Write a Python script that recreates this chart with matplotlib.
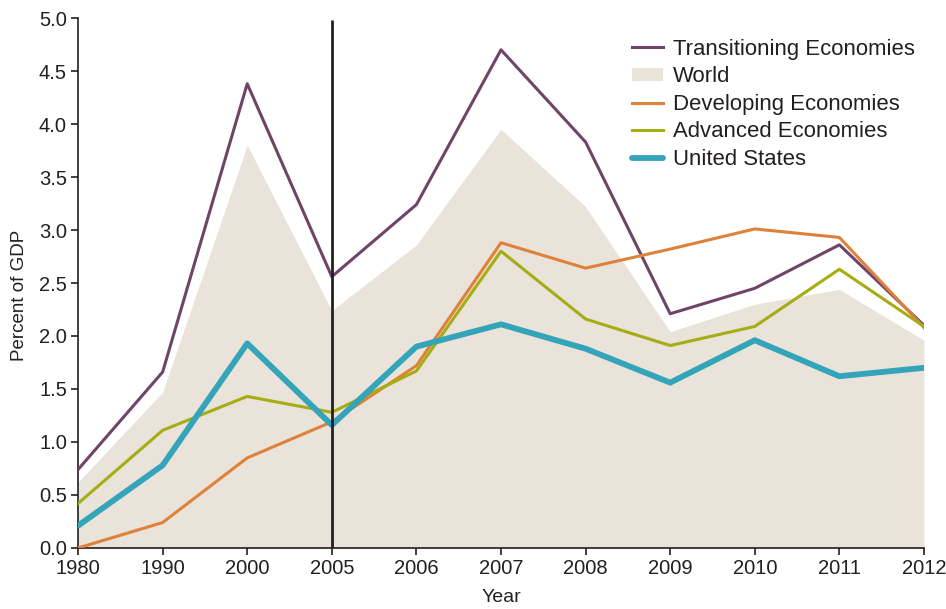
import numpy as np
import matplotlib.pyplot as plt
from matplotlib.patches import Patch
from matplotlib.lines import Line2D

plt.rcParams['font.family'] = ['Liberation Sans', 'DejaVu Sans']

years = ['1980', '1990', '2000', '2005', '2006', '2007', '2008', '2009', '2010', '2011', '2012']
transitioning = [0.74, 1.66, 4.38, 2.56, 3.24, 4.70, 3.83, 2.21, 2.45, 2.86, 2.10]
world = [0.62, 1.47, 3.80, 2.24, 2.86, 3.95, 3.22, 2.04, 2.30, 2.44, 1.96]
developing = [0.00, 0.24, 0.85, 1.19, 1.72, 2.88, 2.64, 2.82, 3.01, 2.93, 2.08]
advanced = [0.42, 1.11, 1.43, 1.28, 1.67, 2.80, 2.16, 1.91, 2.09, 2.63, 2.09]
us = [0.21, 0.78, 1.93, 1.16, 1.90, 2.11, 1.88, 1.56, 1.96, 1.62, 1.70]

c_trans = '#6f4468'
c_world = '#e9e3da'
c_dev = '#df8139'
c_adv = '#a6ad12'
c_us = '#33a4b9'
c_text = '#231f20'

x = np.arange(len(years))

fig = plt.figure(figsize=(9.46, 6.09), dpi=100)
ax = fig.add_axes([0.0825, 0.1002, 0.8942, 0.8702])

ax.fill_between(x, 0, world, color=c_world, lw=0, zorder=1)
ax.plot(x, transitioning, color=c_trans, lw=2.2, zorder=3)
ax.plot(x, developing, color=c_dev, lw=2.2, zorder=3)
ax.plot(x, advanced, color=c_adv, lw=2.2, zorder=3)
ax.plot(x, us, color=c_us, lw=4.2, zorder=4, solid_capstyle='round')
ax.vlines(3, 0, 4.98, color=c_text, lw=2, zorder=5)

ax.set_xlim(0, len(years) - 1)
ax.set_ylim(0, 5.0)
ax.set_xticks(x)
ax.set_xticklabels(years)
ax.set_yticks(np.arange(0, 5.01, 0.5))
ax.set_yticklabels(['%.1f' % v for v in np.arange(0, 5.01, 0.5)])
ax.tick_params(axis='both', colors=c_text, labelsize=14.5, length=5, width=1.2, direction='out', pad=3)
for s in ['top', 'right']:
    ax.spines[s].set_visible(False)
for s in ['left', 'bottom']:
    ax.spines[s].set_color(c_text)
    ax.spines[s].set_linewidth(1.2)

ax.set_xlabel('Year', fontsize=14, color=c_text, labelpad=8)
ax.set_ylabel('Percent of GDP', fontsize=13.5, color=c_text)
ax.yaxis.set_label_coords(-0.059, 0.477)

handles = [
    Line2D([], [], color=c_trans, lw=2.2),
    Patch(facecolor=c_world, edgecolor='none'),
    Line2D([], [], color=c_dev, lw=2.2),
    Line2D([], [], color=c_adv, lw=2.2),
    Line2D([], [], color=c_us, lw=4.2, solid_capstyle='round'),
]
labels = ['Transitioning Economies', 'World', 'Developing Economies', 'Advanced Economies', 'United States']
leg = ax.legend(handles, labels, loc='upper left', bbox_to_anchor=(0.645, 0.978), frameon=False,
                fontsize=15.9, handlelength=1.4, handleheight=0.5, labelspacing=0.3, handletextpad=0.42,
                borderaxespad=0)
for t in leg.get_texts():
    t.set_color(c_text)

fig.savefig('out.png', dpi=100)
